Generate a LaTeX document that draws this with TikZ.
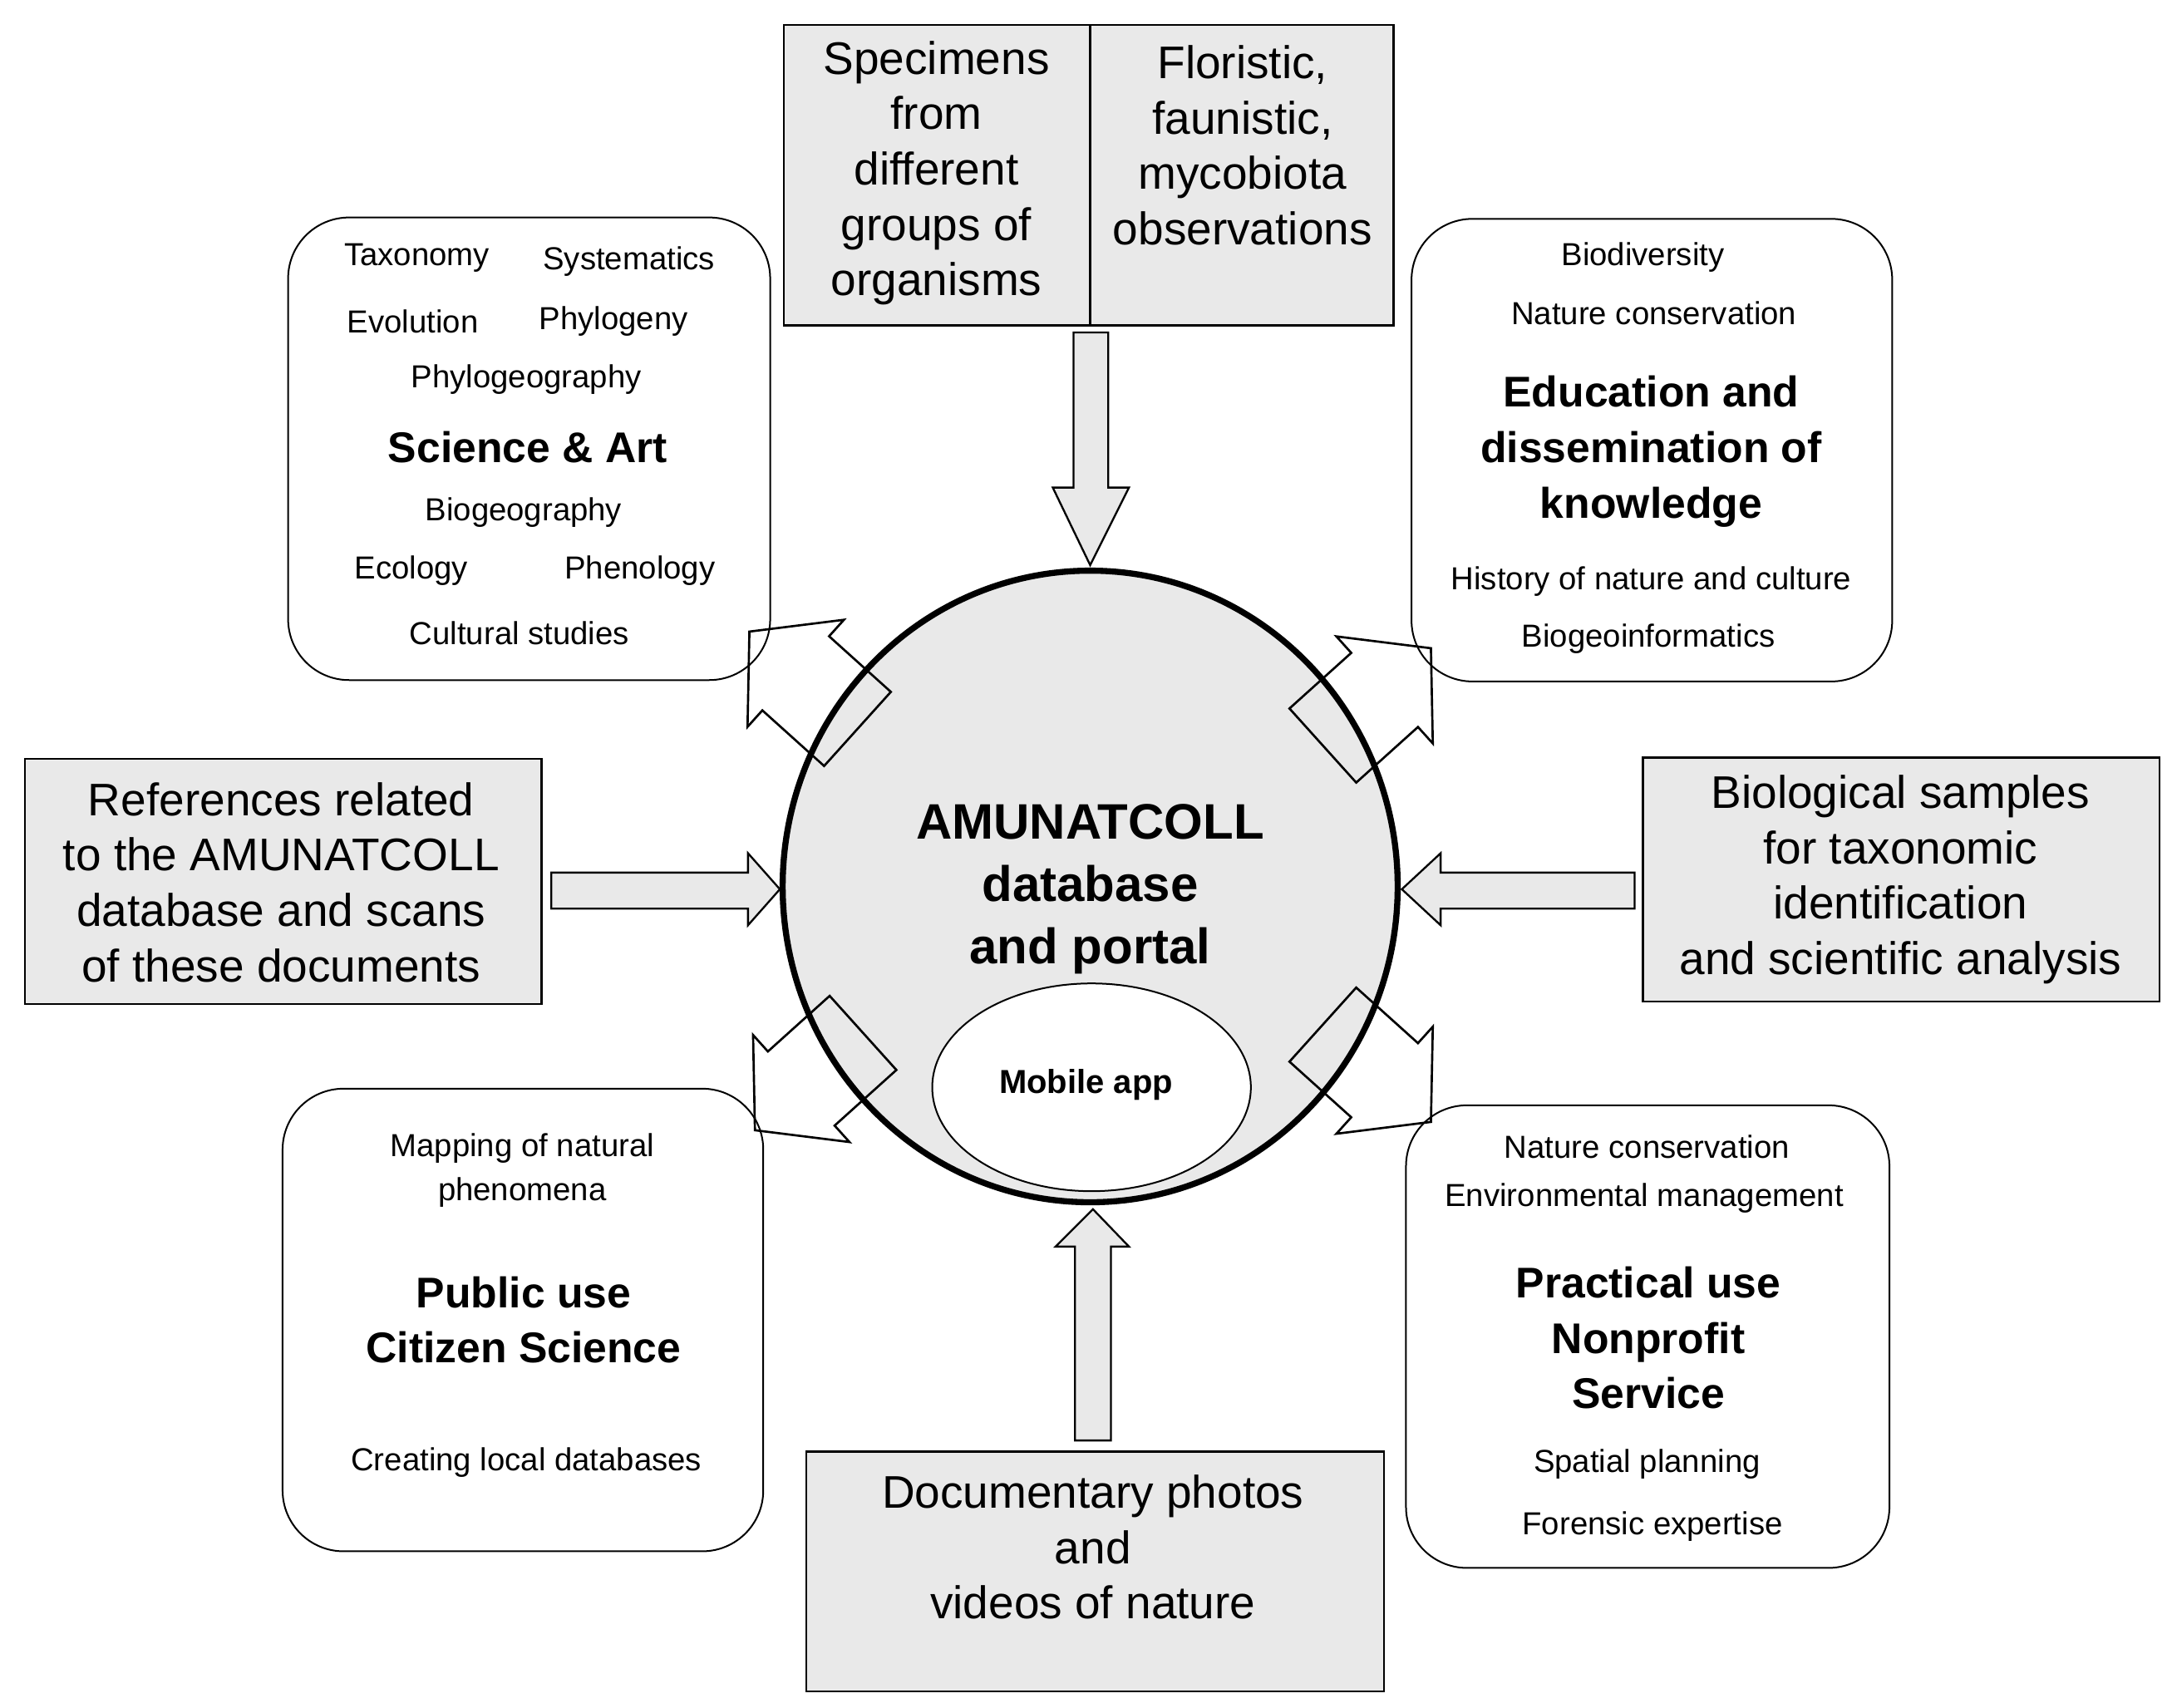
\documentclass[tikz,border=0pt]{standalone}
\usepackage{fontspec}
\setmainfont{Liberation Sans}
\begin{document}
\begin{tikzpicture}[x=0.5pt,y=-0.5pt,
  gbox/.style={draw,line width=0.7pt,fill=gray!17},
  rbox/.style={draw,line width=0.6pt,rounded corners=22pt,fill=white},
  big/.style={align=center,font=\fontsize{16.5}{20}\selectfont},
  sm/.style={align=center,font=\fontsize{11.5}{16}\selectfont},
  hd/.style={align=center,font=\bfseries\fontsize{15.5}{20}\selectfont},
  barr/.style={draw,line width=0.7pt,fill=gray!17},
  darr/.pic={\draw[line width=0.8pt] (0,0) -- (-45,52) -- (-45,36) -- (-105,36) -- (-105,-36) -- (-45,-36) -- (-45,-52) -- cycle;}]
\useasboundingbox (0,0) rectangle (1568,1233);
% grey boxes
\draw[gbox] (566,18) rectangle (1006,235);
\draw[line width=0.7pt] (787,18) -- (787,235);
\node[big] (spec) at (676,125) {Specimens\\from\\different\\groups of\\organisms};
\node[big] (flor) at (897,105) {Floristic,\\faunistic,\\mycobiota\\observations};
\draw[gbox] (18,548) rectangle (391,725);
\node[big] (refs) at (203,637) {References related\\to the AMUNATCOLL\\database and scans\\of these documents};
\draw[gbox] (1186,547) rectangle (1559,723);
\node[big] (bios) at (1372,635) {Biological samples\\for taxonomic\\identification\\and scientific analysis};
\draw[gbox] (582,1048) rectangle (999,1221);
\node[big] (docs) at (789,1117) {Documentary photos\\and\\videos of nature};
% rounded boxes
\draw[rbox] (208,157) rectangle (556,491);
\draw[rbox] (1019,158) rectangle (1366,492);
\draw[rbox] (204,786) rectangle (551,1120);
\draw[rbox] (1015,798) rectangle (1364,1132);
% TL texts
\node[sm] (t1) at (301,186) {Taxonomy};
\node[sm] (t2) at (454,189) {Systematics};
\node[sm] (t3) at (298,232) {Evolution};
\node[sm] (t4) at (443,232) {Phylogeny};
\node[sm] (t5) at (380,274) {Phylogeography};
\node[hd] (t6) at (381,323) {Science \& Art};
\node[sm] (t7) at (378,370) {Biogeography};
\node[sm] (t8) at (297,412) {Ecology};
\node[sm] (t9) at (462,412) {Phenology};
\node[sm] (t10) at (375,457) {Cultural studies};
% TR texts
\node[sm] (r1) at (1186,186) {Biodiversity};
\node[sm] (r2) at (1194,226) {Nature conservation};
\node[hd] (r3) at (1192,326) {Education and\\dissemination of\\knowledge};
\node[sm] (r4) at (1192,420) {History of nature and culture};
\node[sm] (r5) at (1190,461) {Biogeoinformatics};
% BL texts
\node[sm] (l1) at (377,845) {Mapping of natural\\phenomena};
\node[hd] (l2) at (378,953) {Public use\\Citizen Science};
\node[sm] (l3) at (380,1056) {Creating local databases};
% BR texts
\node[sm] (b1) at (1189,828) {Nature conservation};
\node[sm] (b2) at (1187,865) {Environmental management};
\node[hd] (b3) at (1190,966) {Practical use\\Nonprofit\\Service};
\node[sm] (b4) at (1189,1057) {Spatial planning};
\node[sm] (b5) at (1193,1102) {Forensic expertise};
% circle
\fill[gray!17] (787,640) ellipse [x radius=222, y radius=228];
\pic[rotate=138] at (541,456) {darr};
\pic[rotate=42] at (1033,468) {darr};
\pic[rotate=222] at (545,816) {darr};
\pic[rotate=318] at (1033,810) {darr};
\draw[line width=2.2pt] (787,640) ellipse [x radius=222, y radius=228];
\node[align=center,font=\bfseries\fontsize{18}{22.5}\selectfont] (db) at (787,642) {AMUNATCOLL\\database\\and portal};
\draw[line width=0.6pt,fill=white] (788,785) ellipse [x radius=115, y radius=75];
\node[font=\bfseries\fontsize{12}{14}\selectfont] (mob) at (784,783) {Mobile app};
% straight block arrows
\draw[barr] (775,240) -- (800,240) -- (800,352) -- (815,352) -- (787,408) -- (760,352) -- (775,352) -- cycle;
\draw[barr] (776,1040) -- (802,1040) -- (802,900) -- (815,900) -- (789,873) -- (762,900) -- (776,900) -- cycle;
\draw[barr] (398,630) -- (540,630) -- (540,616) -- (563,642) -- (540,668) -- (540,656) -- (398,656) -- cycle;
\draw[barr] (1180,630) -- (1040,630) -- (1040,616) -- (1012,642) -- (1040,668) -- (1040,656) -- (1180,656) -- cycle;
\end{tikzpicture}
\end{document}
